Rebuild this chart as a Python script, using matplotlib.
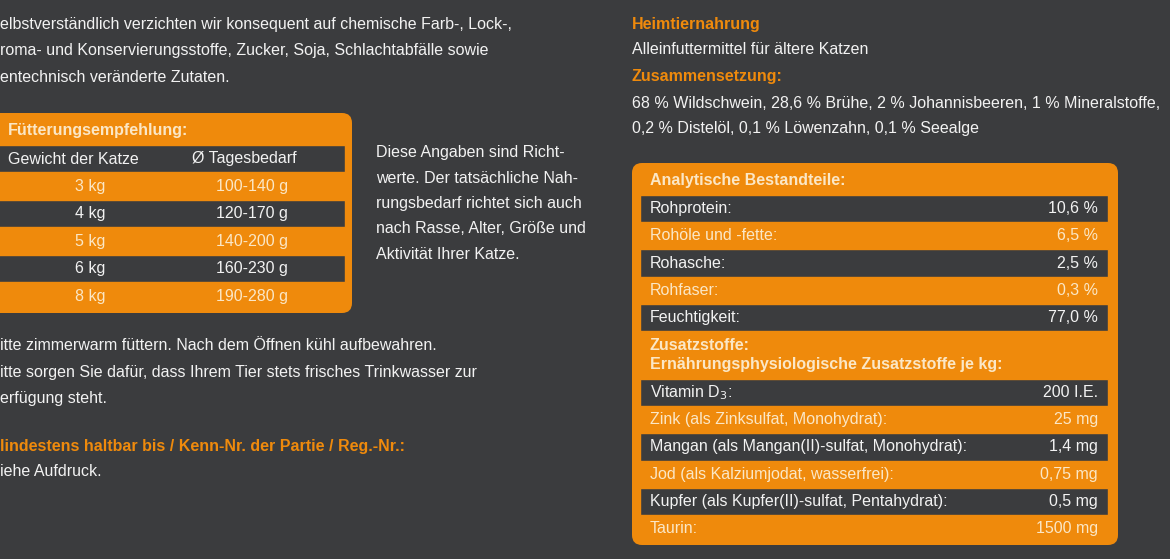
import matplotlib
matplotlib.use("Agg")
import matplotlib.pyplot as plt
from matplotlib.patches import FancyBboxPatch, Rectangle

plt.rcParams['font.family'] = ['Liberation Sans', 'DejaVu Sans']

BG = '#3b3c3e'
OR = '#ef8a0c'
CREAM = '#fbe7c6'
WHITE = '#f2f2f2'

left_intro = ["elbstverständlich verzichten wir konsequent auf chemische Farb-, Lock-,",
              "roma- und Konservierungsstoffe, Zucker, Soja, Schlachtabfälle sowie",
              "entechnisch veränderte Zutaten."]
feed_title = "Fütterungsempfehlung:"
feed_header = ["Gewicht der Katze", "Ø Tagesbedarf"]
weights = ["3 kg", "4 kg", "5 kg", "6 kg", "8 kg"]
amounts = ["100-140 g", "120-170 g", "140-200 g", "160-230 g", "190-280 g"]
note = ["Diese Angaben sind Richt-", "werte. Der tatsächliche Nah-",
        "rungsbedarf richtet sich auch", "nach Rasse, Alter, Größe und",
        "Aktivität Ihrer Katze."]
care = ["itte zimmerwarm füttern. Nach dem Öffnen kühl aufbewahren.",
        "itte sorgen Sie dafür, dass Ihrem Tier stets frisches Trinkwasser zur",
        "erfügung steht."]
mhd_title = "lindestens haltbar bis / Kenn-Nr. der Partie / Reg.-Nr.:"
mhd_text = "iehe Aufdruck."
comp = ["68 % Wildschwein, 28,6 % Brühe, 2 % Johannisbeeren, 1 % Mineralstoffe,",
        "0,2 % Distelöl, 0,1 % Löwenzahn, 0,1 % Seealge"]
ana_names = ["Rohprotein:", "Rohöle und -fette:", "Rohasche:", "Rohfaser:", "Feuchtigkeit:"]
ana_vals = ["10,6 %", "6,5 %", "2,5 %", "0,3 %", "77,0 %"]
add_names = ["Vitamin D$_3$:", "Zink (als Zinksulfat, Monohydrat):",
             "Mangan (als Mangan(II)-sulfat, Monohydrat):", "Jod (als Kalziumjodat, wasserfrei):",
             "Kupfer (als Kupfer(II)-sulfat, Pentahydrat):", "Taurin:"]
add_vals = ["200 I.E.", "25 mg", "1,4 mg", "0,75 mg", "0,5 mg", "1500 mg"]

fig = plt.figure(figsize=(11.7, 5.59), dpi=100)
fig.patch.set_facecolor(BG)
ax = fig.add_axes([0, 0, 1, 1])
ax.set_xlim(0, 1170); ax.set_ylim(559, 0); ax.axis('off')
FS = 11.5

def t(x, y, s, c=WHITE, bold=False, ha='left', fs=FS):
    ax.text(x, y, s, color=c, fontsize=fs, ha=ha, va='center',
            fontweight='bold' if bold else 'normal', clip_on=True)

for i, s in enumerate(left_intro):
    t(0, 25 + 26 * i, s)

ax.add_patch(FancyBboxPatch((-20, 113), 372, 200, boxstyle="round,pad=0,rounding_size=10", fc=OR, ec='none'))
t(8, 130, feed_title, CREAM, True)
ax.add_patch(Rectangle((-5, 145), 350, 27, fc=BG, ec=OR, lw=1))
t(8, 159, feed_header[0]); t(192, 159, feed_header[1])
for i, (w, a) in enumerate(zip(weights, amounts)):
    y0 = 172 + 27.6 * i
    if i % 2 == 1:
        ax.add_patch(Rectangle((-5, y0), 350, 27.6, fc=BG, ec=OR, lw=1))
        c = WHITE
    else:
        c = CREAM
    t(90, y0 + 14, w, c, ha='center'); t(252, y0 + 14, a, c, ha='center')

for i, s in enumerate(note):
    t(376, 153 + 25.3 * i, s)
for i, s in enumerate(care):
    t(0, 346 + 26 * i, s)
t(0, 446, mhd_title, OR, True)
t(0, 471, mhd_text)

t(632, 25, "Heimtiernahrung", OR, True)
t(632, 50, "Alleinfuttermittel für ältere Katzen")
t(632, 76, "Zusammensetzung:", OR, True)
for i, s in enumerate(comp):
    t(632, 103 + 25 * i, s)

ax.add_patch(FancyBboxPatch((632, 163), 486, 382, boxstyle="round,pad=0,rounding_size=10", fc=OR, ec='none'))
t(650, 180, "Analytische Bestandteile:", CREAM, True)

def rows(names, vals, ystart, h):
    for i, (n, v) in enumerate(zip(names, vals)):
        y0 = ystart + h * i
        if i % 2 == 0:
            ax.add_patch(Rectangle((640, y0), 468, h, fc=BG, ec=OR, lw=1))
            c = WHITE
        else:
            c = CREAM
        t(650, y0 + h / 2, n, c); t(1098, y0 + h / 2, v, c, ha='right')

rows(ana_names, ana_vals, 195, 27.2)
t(650, 346, "Zusatzstoffe:", CREAM, True)
t(650, 365, "Ernährungsphysiologische Zusatzstoffe je kg:", CREAM, True)
rows(add_names, add_vals, 379, 27.2)

fig.savefig("out.png", dpi=100, facecolor=BG)
